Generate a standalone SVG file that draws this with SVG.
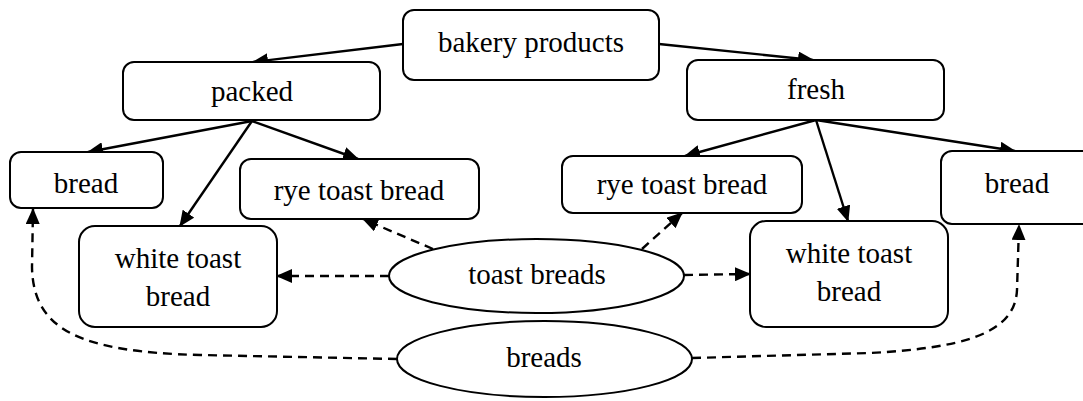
<svg xmlns="http://www.w3.org/2000/svg" width="1083" height="401" viewBox="0 0 1083 401">
<defs>
<marker id="ah" markerUnits="userSpaceOnUse" markerWidth="16" markerHeight="14" refX="15" refY="7" orient="auto">
<path d="M0,0 L16,7 L0,14 z" fill="#000"/>
</marker>
<style>
.box{fill:#fff;stroke:#000;stroke-width:2}
.t{font-family:"Liberation Serif","Times New Roman",serif;font-size:29px;fill:#000;text-anchor:middle}
.e{fill:none;stroke:#000;stroke-width:2.4;marker-end:url(#ah)}
.d{fill:none;stroke:#000;stroke-width:2.4;stroke-dasharray:9,6;marker-end:url(#ah)}
</style>
</defs>
<rect width="1083" height="401" fill="#fff"/>
<g id="connectors">
<path class="e" d="M403,44 L253,62"/>
<path class="e" d="M659,44 L813,60"/>
<path class="e" d="M252,121 L88,152"/>
<path class="e" d="M252,121 L180,226"/>
<path class="e" d="M252,121 L358,159"/>
<path class="e" d="M816,120 L685,156"/>
<path class="e" d="M816,120 L848,221"/>
<path class="e" d="M816,120 L1015,151"/>
<path class="d" d="M433,249 L363,219"/>
<path class="d" d="M389,276 L277,276"/>
<path class="d" d="M642,249 L682,213"/>
<path class="d" d="M684,275 L750,274"/>
<path class="d" d="M397,359 L200,355 C80,352 33,330 32,267 L33,209"/>
<path class="d" d="M692,358 L870,353 C960,348 1015,335 1017,290 L1019,225"/>
</g>
<g id="bakery-products"><rect class="box" x="403" y="10" width="256" height="70" rx="11"/><text class="t" x="531" y="52">bakery products</text></g>
<g id="packed"><rect class="box" x="123" y="62" width="257" height="58" rx="11"/><text class="t" x="252" y="101">packed</text></g>
<g id="fresh"><rect class="box" x="687" y="60" width="257" height="60" rx="11"/><text class="t" x="816" y="99">fresh</text></g>
<g id="bread-left"><rect class="box" x="10" y="152" width="153" height="56" rx="11"/><text class="t" x="86" y="193">bread</text></g>
<g id="rye-left"><rect class="box" x="240" y="159" width="239" height="60" rx="11"/><text class="t" x="359" y="200">rye toast bread</text></g>
<g id="rye-right"><rect class="box" x="562" y="156" width="240" height="57" rx="11"/><text class="t" x="682" y="194">rye toast bread</text></g>
<g id="bread-right"><rect class="box" x="941" y="151" width="160" height="73" rx="11"/><text class="t" x="1017" y="193">bread</text></g>
<g id="white-left"><rect class="box" x="79" y="226" width="198" height="101" rx="16"/><text class="t" x="178" y="268">white toast</text><text class="t" x="178" y="306">bread</text></g>
<g id="white-right"><rect class="box" x="750" y="221" width="198" height="106" rx="16"/><text class="t" x="849" y="263">white toast</text><text class="t" x="849" y="301">bread</text></g>
<g id="toast-breads"><ellipse class="box" cx="536.5" cy="276" rx="147.5" ry="37"/><text class="t" x="537" y="284">toast breads</text></g>
<g id="breads"><ellipse class="box" cx="544.5" cy="359" rx="147.5" ry="38"/><text class="t" x="544" y="367">breads</text></g>
</svg>
